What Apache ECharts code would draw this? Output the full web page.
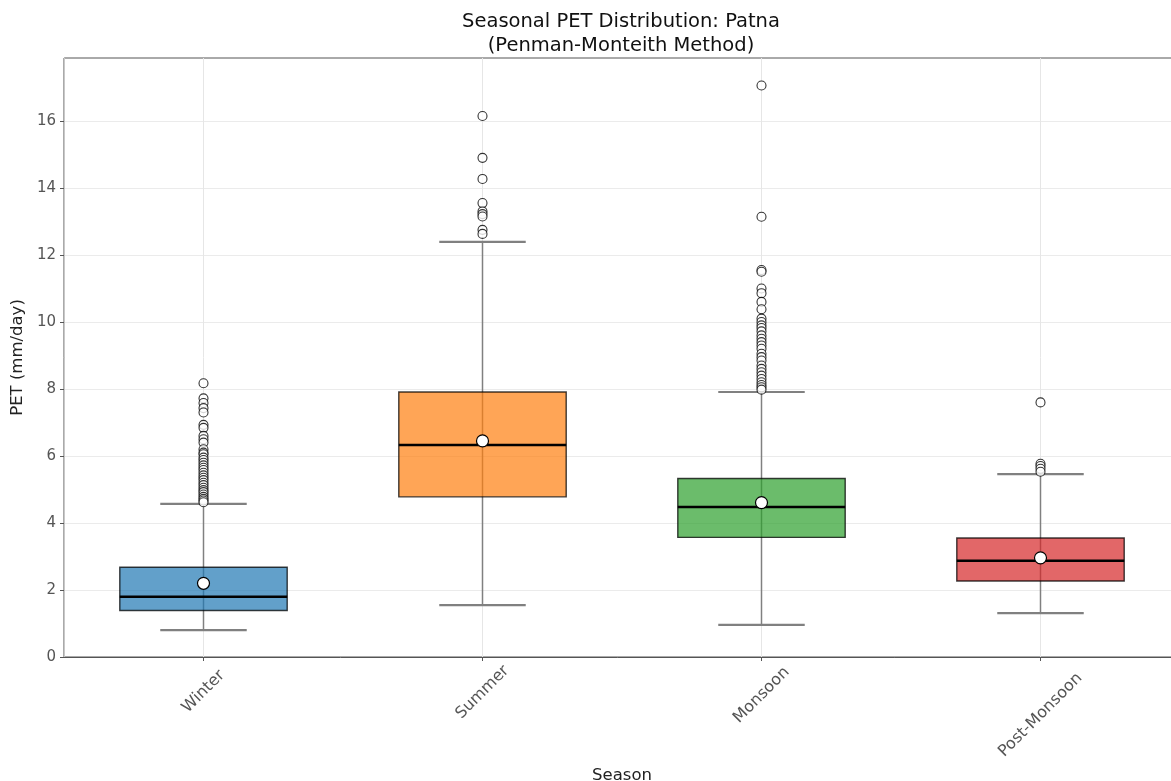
<!DOCTYPE html>
<html>
<head>
<meta charset="utf-8">
<script src="https://cdn.jsdelivr.net/npm/echarts@6/dist/echarts.min.js"></script>
<style>
  html, body { margin: 0; padding: 0; background: #fff; }
  #main { width: 1171px; height: 781px; }
</style>
</head>
<body>
<div id="main"></div>
<script>
// seasons
var categories = ['Winter', 'Summer', 'Monsoon', 'Post-Monsoon'];

// box statistics (mm/day)
var whiskerLow  = [0.80, 1.55, 0.96, 1.31];
var q1          = [1.39, 4.78, 3.57, 2.27];
var median      = [1.80, 6.33, 4.48, 2.87];
var q3          = [2.68, 7.91, 5.33, 3.55];
var whiskerHigh = [4.57, 12.39, 7.91, 5.46];
var means       = [2.20, 6.45, 4.61, 2.96];

// fliers
var winterOut = [8.17, 7.72, 7.58, 7.43, 7.30, 6.93, 6.84, 6.60, 6.50, 6.40, 6.20, 6.10, 6.05,
  5.95, 5.88, 5.80, 5.72, 5.65, 5.58, 5.50, 5.42, 5.35, 5.28, 5.20, 5.13, 5.05, 4.98, 4.92,
  4.85, 4.78, 4.72, 4.67, 4.62];
var summerOut = [16.15, 14.90, 14.27, 13.55, 13.30, 13.22, 13.15, 12.75, 12.63];
var monsoonOut = [17.06, 13.14, 11.55, 11.50, 11.00, 10.86, 10.60, 10.38, 10.10, 10.00, 9.90,
  9.82, 9.72, 9.60, 9.50, 9.40, 9.30, 9.20, 9.05, 8.95, 8.85, 8.70, 8.60, 8.50, 8.40, 8.30,
  8.20, 8.12, 8.05, 7.98];
var postOut = [7.60, 5.77, 5.70, 5.62, 5.53];

var yTicks = [0, 2, 4, 6, 8, 10, 12, 14, 16];
var xTicks = [0, 1, 2, 3];

var boxColors = ['rgba(31,119,180,0.7)', 'rgba(255,127,14,0.7)', 'rgba(44,160,44,0.7)', 'rgba(214,39,40,0.7)'];

// extra padding so rotated text sits centred under its tick (like matplotlib ha=center)
var labelPad = [15, 16, 20, 48];

var boxData = categories.map(function (c, i) {
  return [i, whiskerLow[i], q1[i], median[i], q3[i], whiskerHigh[i]];
});
var outData = [];
[winterOut, summerOut, monsoonOut, postOut].forEach(function (arr, i) {
  arr.forEach(function (v) { outData.push([i, v]); });
});
var meanData = means.map(function (m, i) { return [i, m]; });

function renderBox(params, api) {
  var i = api.value(0);
  var x = api.coord([i, 0])[0];
  var yLow = api.coord([i, api.value(1)])[1];
  var yQ1 = api.coord([i, api.value(2)])[1];
  var yMed = api.coord([i, api.value(3)])[1];
  var yQ3 = api.coord([i, api.value(4)])[1];
  var yHigh = api.coord([i, api.value(5)])[1];
  var bw = api.size([0.6, 0])[0];
  var cw = api.size([0.31, 0])[0];
  var grey = '#808080';
  return {
    type: 'group',
    children: [
      { type: 'line', shape: { x1: x, y1: yLow, x2: x, y2: yHigh }, style: { stroke: grey, lineWidth: 1.5 } },
      { type: 'line', shape: { x1: x - cw / 2, y1: yLow, x2: x + cw / 2, y2: yLow }, style: { stroke: grey, lineWidth: 2.2 } },
      { type: 'line', shape: { x1: x - cw / 2, y1: yHigh, x2: x + cw / 2, y2: yHigh }, style: { stroke: grey, lineWidth: 2.2 } },
      { type: 'rect', shape: { x: x - bw / 2, y: yQ3, width: bw, height: yQ1 - yQ3 },
        style: { fill: boxColors[i], stroke: 'rgba(0,0,0,0.75)', lineWidth: 1.4 } },
      { type: 'line', shape: { x1: x - bw / 2, y1: yMed, x2: x + bw / 2, y2: yMed }, style: { stroke: '#000', lineWidth: 2.5 } }
    ]
  };
}

var rich = {};
labelPad.forEach(function (p, i) {
  rich['s' + i] = { padding: [p, p, 0, 0], fontSize: 16, color: '#555', fontFamily: 'DejaVu Sans' };
});

var chart = echarts.init(document.getElementById('main'));
chart.setOption({
  animation: false,
  backgroundColor: '#fff',
  textStyle: { fontFamily: 'DejaVu Sans' },
  title: {
    text: 'Seasonal PET Distribution: Patna\n(Penman-Monteith Method)',
    left: 616,
    top: 5,
    textAlign: 'center',
    textStyle: { fontSize: 19.5, fontWeight: 'normal', color: '#111', lineHeight: 24, fontFamily: 'DejaVu Sans' }
  },
  grid: {
    left: 64, top: 58, width: 1116, height: 599,
    outerBoundsMode: 'none',
    containLabel: false,
    show: true, borderColor: '#555', borderWidth: 1, backgroundColor: 'transparent'
  },
  xAxis: {
    type: 'value',
    min: -0.5,
    max: 3.5,
    splitNumber: 4,
    name: 'Season',
    nameLocation: 'middle',
    nameGap: 108,
    nameTextStyle: { fontSize: 16.5, color: '#222' },
    axisLine: { onZero: false, lineStyle: { color: '#555' } },
    axisTick: { length: 4, customValues: xTicks, lineStyle: { color: '#555' } },
    splitLine: { show: true, lineStyle: { color: '#e6e6e6' } },
    axisLabel: {
      customValues: xTicks,
      rotate: 45,
      align: 'center',
      verticalAlign: 'middle',
      margin: 24,
      formatter: function (v) {
        var i = Math.round(v);
        if (Math.abs(v - i) > 1e-6 || !categories[i]) return '';
        return '{s' + i + '|' + categories[i] + '}';
      },
      rich: rich
    }
  },
  yAxis: {
    type: 'value',
    min: 0,
    max: 17.88,
    interval: 2,
    name: 'PET (mm/day)',
    nameLocation: 'middle',
    nameGap: 35,
    nameTextStyle: { fontSize: 16.5, color: '#222' },
    axisLine: { show: true, onZero: false, lineStyle: { color: '#c8c8c8' } },
    axisTick: { show: true, length: 4, customValues: yTicks, lineStyle: { color: '#555' } },
    splitLine: { lineStyle: { color: '#ebebeb' } },
    axisLabel: {
      customValues: yTicks,
      fontSize: 15, color: '#555', margin: 8
    }
  },
  series: [
    {
      type: 'custom',
      renderItem: renderBox,
      data: boxData,
      encode: { x: 0, y: [1, 2, 3, 4, 5] },
      z: 2
    },
    {
      type: 'scatter',
      data: outData,
      symbol: 'circle',
      symbolSize: 9,
      itemStyle: { color: '#fff', borderColor: '#000', borderWidth: 1.1 },
      z: 3
    },
    {
      type: 'scatter',
      data: meanData,
      symbol: 'circle',
      symbolSize: 12,
      itemStyle: { color: '#fff', borderColor: '#000', borderWidth: 1.2, opacity: 1 },
      z: 4
    }
  ]
});
</script>
</body>
</html>
